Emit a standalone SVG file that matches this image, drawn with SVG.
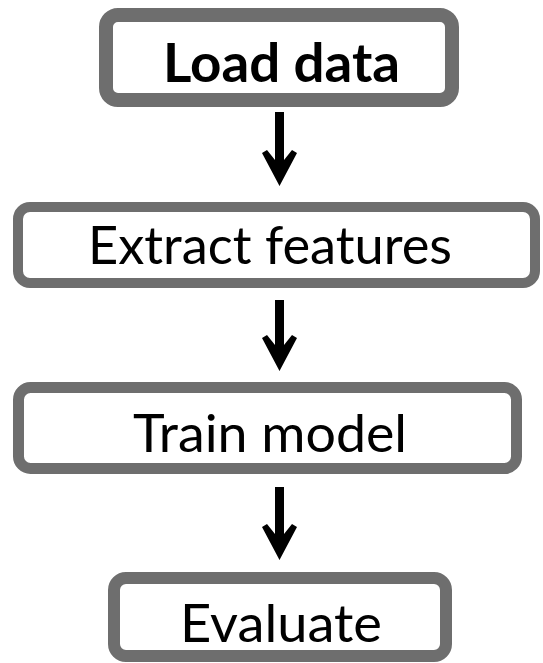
<svg xmlns="http://www.w3.org/2000/svg" width="543" height="663" viewBox="0 0 543 663">
<style>
.box{fill:#ffffff;stroke:#6e6e6e;}
.lbl{font-family:Lato,"Open Sans",sans-serif;font-size:53px;fill:#000;text-anchor:middle;}
.bold{font-weight:bold;}
.arr{fill:#000;}
</style>
<rect width="543" height="663" fill="#ffffff"/>
<g id="load-data">
<rect class="box" x="106" y="15" width="346" height="85" rx="12" stroke-width="14"/>
<text class="lbl bold" x="281.5" y="82" textLength="237" lengthAdjust="spacingAndGlyphs">Load data</text>
</g>
<g id="extract-features">
<rect class="box" x="18" y="207" width="517" height="76" rx="12" stroke-width="10"/>
<text class="lbl" x="270" y="264" textLength="364" lengthAdjust="spacingAndGlyphs">Extract features</text>
</g>
<g id="train-model">
<rect class="box" x="18.5" y="387.5" width="498" height="81" rx="12" stroke-width="11"/>
<text class="lbl" x="270" y="452" textLength="274" lengthAdjust="spacingAndGlyphs">Train model</text>
</g>
<g id="evaluate">
<rect class="box" x="114" y="578" width="332" height="78" rx="12" stroke-width="12"/>
<text class="lbl" x="281" y="642" textLength="202" lengthAdjust="spacingAndGlyphs">Evaluate</text>
</g>
<g id="connectors">
<path class="arr" d="M279.5,186 L262,153 L267,150 L275,160 L275,112 L284,112 L284,160 L292,150 L297,153 Z"/>
<path class="arr" d="M279.5,371 L262,338 L267,335 L275,345 L275,300 L284,300 L284,345 L292,335 L297,338 Z"/>
<path class="arr" d="M279.5,560 L262,527 L267,524 L275,534 L275,487 L284,487 L284,534 L292,524 L297,527 Z"/>
</g>
</svg>
